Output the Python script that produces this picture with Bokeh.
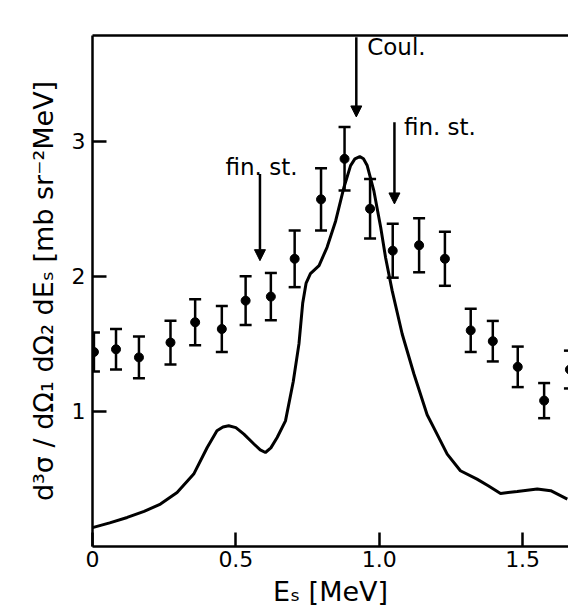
from bokeh.plotting import figure
from bokeh.models import (ColumnDataSource, Whisker, TeeHead, Arrow, NormalHead,
                          FixedTicker, LinearAxis, Range1d)
from bokeh.core.properties import value
from bokeh.embed import file_html
from bokeh.resources import INLINE

# ---- data ----
E_data = [0.005, 0.082, 0.162, 0.272, 0.358, 0.451, 0.534, 0.622, 0.705, 0.797,
          0.879, 0.968, 1.047, 1.139, 1.229, 1.319, 1.396, 1.483, 1.575, 1.665]
xs_data = [1.44, 1.46, 1.40, 1.51, 1.66, 1.61, 1.82, 1.85, 2.13, 2.57,
           2.87, 2.50, 2.19, 2.23, 2.13, 1.60, 1.52, 1.33, 1.08, 1.31]
xs_err = [0.145, 0.15, 0.154, 0.162, 0.17, 0.17, 0.18, 0.175, 0.21, 0.23,
          0.235, 0.22, 0.20, 0.20, 0.20, 0.16, 0.15, 0.15, 0.13, 0.14]

curve_E = [0.0, 0.06, 0.121, 0.18, 0.237, 0.295, 0.353, 0.40, 0.434, 0.455,
           0.475, 0.50, 0.528, 0.563, 0.585, 0.603, 0.622, 0.644, 0.673, 0.70,
           0.72, 0.733, 0.745, 0.76, 0.79, 0.818, 0.848, 0.877, 0.90, 0.915,
           0.932, 0.945, 0.958, 0.981, 1.005, 1.022, 1.045, 1.08, 1.121, 1.167,
           1.19, 1.237, 1.283, 1.341, 1.38, 1.423, 1.481, 1.551, 1.598, 1.656]
curve_y = [0.14, 0.175, 0.215, 0.26, 0.314, 0.40, 0.536, 0.733, 0.857, 0.885,
           0.894, 0.88, 0.832, 0.759, 0.715, 0.696, 0.73, 0.807, 0.93, 1.22,
           1.50, 1.80, 1.95, 2.02, 2.08, 2.215, 2.41, 2.66, 2.82, 2.87,
           2.887, 2.87, 2.82, 2.635, 2.363, 2.14, 1.894, 1.573, 1.277, 0.975,
           0.88, 0.684, 0.561, 0.499, 0.45, 0.393, 0.407, 0.425, 0.413, 0.351]

arrow_x = [0.92, 0.584, 1.053]
arrow_top = [3.77, 2.758, 3.14]
arrow_tip = [3.18, 2.116, 2.536]

note_text = ["Coul.", "fin. st.", "fin. st."]
note_x = [0.958, 0.464, 1.086]
note_y = [3.696, 2.807, 3.109]

x_ticks = [0, 0.5, 1.0, 1.5]
x_tick_labels = ["0", "0.5", "1.0", "1.5"]
y_ticks = [1, 2, 3]
y_tick_labels = ["1", "2", "3"]

FONT = "DejaVu Sans"

p = figure(width=568, height=616, x_range=Range1d(0, 1.66), y_range=Range1d(0, 3.783),
           output_backend="svg", toolbar_location=None,
           min_border_left=92, min_border_right=0, min_border_top=35, min_border_bottom=70)
p.background_fill_color = "white"
p.border_fill_color = "white"
p.outline_line_color = None
p.grid.visible = False

# axes
for ax in (p.xaxis[0], p.yaxis[0]):
    ax.axis_line_width = 2.5
    ax.axis_line_color = "black"
    ax.major_tick_line_width = 2.5
    ax.major_tick_line_color = "black"
    ax.major_tick_in = 14
    ax.major_tick_out = 0
    ax.minor_tick_line_color = None
    ax.major_label_text_font = FONT
    ax.major_label_text_font_size = "22px"
    ax.major_label_text_color = "black"
    ax.axis_label_text_font = FONT
    ax.axis_label_text_font_style = "normal"
    ax.axis_label_text_color = "black"

p.xaxis.ticker = FixedTicker(ticks=x_ticks)
p.xaxis.major_label_overrides = dict(zip(x_ticks, x_tick_labels))
p.xaxis.major_label_standoff = 4
p.xaxis.axis_label = "Eₛ [MeV]"
p.xaxis.axis_label_text_font_size = "27px"
p.xaxis.axis_label_standoff = 6

p.yaxis.ticker = FixedTicker(ticks=y_ticks)
p.yaxis.major_label_overrides = dict(zip(y_ticks, y_tick_labels))
p.yaxis.major_label_standoff = 7
p.yaxis.axis_label = "d³σ / dΩ₁ dΩ₂ dEₛ [mb sr⁻²MeV]"
p.yaxis.axis_label_text_font_size = "27px"
p.yaxis.axis_label_standoff = 10

top = LinearAxis(ticker=FixedTicker(ticks=[]), axis_line_width=2.5, axis_line_color="black",
                 major_label_text_font_size="0px", minor_tick_line_color=None,
                 major_tick_line_color=None)
p.add_layout(top, "above")

# theory curve
p.line(curve_E, curve_y, line_color="black", line_width=3)

# data with error bars
src = ColumnDataSource(dict(
    x=E_data, y=xs_data,
    upper=[v + e for v, e in zip(xs_data, xs_err)],
    lower=[v - e for v, e in zip(xs_data, xs_err)],
))
p.add_layout(Whisker(source=src, base="x", upper="upper", lower="lower",
                     line_color="black", line_width=2.5,
                     upper_head=TeeHead(size=12, line_width=2.5, line_color="black"),
                     lower_head=TeeHead(size=12, line_width=2.5, line_color="black")))
p.scatter("x", "y", source=src, size=9, color="black")

# arrows
asrc = ColumnDataSource(dict(x0=arrow_x, y0=arrow_top, x1=arrow_x, y1=arrow_tip))
p.add_layout(Arrow(source=asrc, x_start="x0", y_start="y0", x_end="x1", y_end="y1",
                   line_width=2.5, line_color="black",
                   end=NormalHead(size=11, fill_color="black", line_color="black", line_width=1)))

p.text(note_x, note_y, text=note_text, text_font=value(FONT), text_font_size="23px",
       text_color="black", text_align="left", text_baseline="alphabetic")

open("out.html", "w").write(file_html(p, INLINE))
